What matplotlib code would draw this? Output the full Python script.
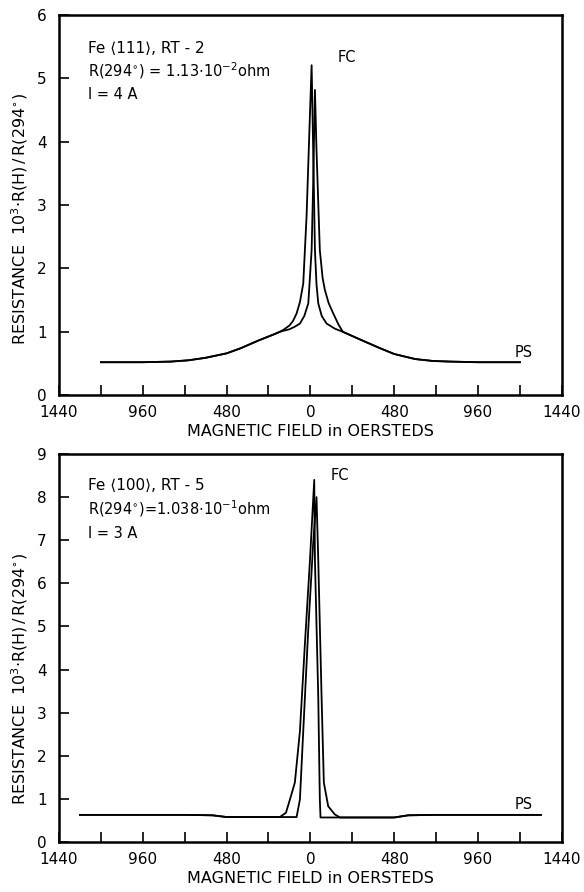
import numpy as np
import matplotlib
matplotlib.use("Agg")
import matplotlib.pyplot as plt

plt.rcParams['font.family'] = ['DejaVu Sans']
plt.rcParams['mathtext.fontset'] = 'dejavusans'

# ---- upper panel: Fe <111>, RT-2 ----
top_wing_left_h = [-1200, -960, -800, -700, -600, -480, -400, -300, -200, -175]
top_wing_left_r = [0.52, 0.52, 0.53, 0.55, 0.59, 0.66, 0.74, 0.86, 0.97, 1.0]
top_wing_right_h = [186, 300, 400, 480, 600, 700, 800, 960, 1200]
top_wing_right_r = [1.0, 0.86, 0.74, 0.65, 0.57, 0.54, 0.53, 0.52, 0.52]

# branch 1: outer left up to the tall peak, then inner right down
top_up1_h = [-150, -120, -100, -79, -60, -41, -22, -3, 7]
top_up1_r = [1.04, 1.10, 1.17, 1.29, 1.47, 1.76, 2.82, 4.40, 5.21]
top_down1_h = [16, 26, 35, 45, 65, 93, 140]
top_down1_r = [3.87, 2.29, 1.75, 1.45, 1.25, 1.13, 1.05]

# branch 2: inner left up to the lower peak, then outer right down
top_up2_h = [-150, -120, -90, -60, -35, -12, 7, 16, 26]
top_up2_r = [1.02, 1.04, 1.08, 1.13, 1.25, 1.45, 2.29, 3.34, 4.82]
top_down2_h = [35, 54, 70, 83, 105, 131, 160]
top_down2_r = [3.87, 2.29, 1.85, 1.66, 1.45, 1.29, 1.12]

# ---- lower panel: Fe <100>, RT-5 ----
bot_base_left_h = [-1320, -960, -700, -560, -480, -300]
bot_base_left_r = [0.63, 0.63, 0.63, 0.62, 0.58, 0.58]
bot_base_right_h = [200, 480, 560, 700, 960, 1320]
bot_base_right_r = [0.57, 0.57, 0.62, 0.63, 0.63, 0.63]

bot_up1_h = [-175, -140, -117, -89, -60, -31, -3, 22]
bot_up1_r = [0.58, 0.68, 0.99, 1.38, 2.57, 4.63, 6.5, 8.4]
bot_down1_h = [26, 45, 54, 58, 100, 170]
bot_down1_r = [6.54, 3.37, 0.99, 0.57, 0.57, 0.57]

bot_up2_h = [-175, -79, -60, -41, -12, 16, 35]
bot_up2_r = [0.58, 0.58, 0.99, 2.57, 4.95, 6.93, 8.0]
bot_down2_h = [45, 64, 77, 102, 140, 170]
bot_down2_r = [6.54, 3.37, 1.38, 0.83, 0.64, 0.57]

xtick_pos = [-1440, -960, -480, 0, 480, 960, 1440]
xtick_lab = ['1440', '960', '480', '0', '480', '960', '1440']
xminor = [-1200, -720, -240, 240, 720, 1200]

ylab = r'RESISTANCE  $10^3$$\cdot$R(H)$\,/\,$R(294$^{\circ}$)'


def style_axes(ax, ymax, ylab_y):
    ax.set_xlim(-1440, 1440)
    ax.set_ylim(0, ymax)
    ax.set_xticks(xtick_pos)
    ax.set_xticklabels(xtick_lab)
    ax.set_xticks(xminor, minor=True)
    ax.set_yticks(range(0, ymax + 1))
    ax.tick_params(axis='both', which='both', direction='in', length=7,
                   width=1.2, labelsize=11, color='black')
    ax.tick_params(axis='x', pad=7)
    ax.tick_params(axis='y', pad=9)
    for s in ax.spines.values():
        s.set_linewidth(1.8)
    ax.set_xlabel('MAGNETIC FIELD in OERSTEDS', fontsize=11.5, labelpad=3)
    ax.set_ylabel(ylab, fontsize=11.5)
    ax.yaxis.set_label_coords(-0.058, ylab_y)


fig = plt.figure(figsize=(5.84, 8.92), dpi=100)
ax1 = fig.add_axes([0.101, 0.557, 0.861, 0.426])
ax2 = fig.add_axes([0.101, 0.056, 0.861, 0.435])

kw = dict(color='black', lw=1.3)
tkw = dict(fontsize=10.5, va='center')
LA, RA = '\u27e8', '\u27e9'

c1_h = top_wing_left_h + top_up1_h + top_down1_h + top_wing_right_h
c1_r = top_wing_left_r + top_up1_r + top_down1_r + top_wing_right_r
c2_h = top_wing_left_h + top_up2_h + top_down2_h + top_wing_right_h
c2_r = top_wing_left_r + top_up2_r + top_down2_r + top_wing_right_r
ax1.plot(c1_h, c1_r, **kw)
ax1.plot(c2_h, c2_r, **kw)
style_axes(ax1, 6, 0.463)
ax1.text(0.058, 0.913, 'Fe ' + LA + '111' + RA + ', RT - 2', transform=ax1.transAxes, fontsize=11, va='center')
ax1.text(0.058, 0.855, r'R(294$^{\circ}$) = 1.13$\cdot$10$^{-2}$ohm', transform=ax1.transAxes, **tkw)
ax1.text(0.058, 0.79, 'I = 4 A', transform=ax1.transAxes, **tkw)
ax1.text(210, 5.33, 'FC', fontsize=10.5, ha='center', va='center')
ax1.text(1170, 0.68, 'PS', fontsize=10.5, ha='left', va='center')

d1_h = bot_base_left_h + bot_up1_h + bot_down1_h + bot_base_right_h
d1_r = bot_base_left_r + bot_up1_r + bot_down1_r + bot_base_right_r
d2_h = bot_base_left_h + bot_up2_h + bot_down2_h + bot_base_right_h
d2_r = bot_base_left_r + bot_up2_r + bot_down2_r + bot_base_right_r
ax2.plot(d1_h, d1_r, **kw)
ax2.plot(d2_h, d2_r, **kw)
style_axes(ax2, 9, 0.42)
ax2.text(0.058, 0.92, 'Fe ' + LA + '100' + RA + ', RT - 5', transform=ax2.transAxes, fontsize=11, va='center')
ax2.text(0.058, 0.858, r'R(294$^{\circ}$)=1.038$\cdot$10$^{-1}$ohm', transform=ax2.transAxes, **tkw)
ax2.text(0.058, 0.794, 'I = 3 A', transform=ax2.transAxes, **tkw)
ax2.text(170, 8.5, 'FC', fontsize=10.5, ha='center', va='center')
ax2.text(1170, 0.88, 'PS', fontsize=10.5, ha='left', va='center')

fig.savefig('out.png', dpi=100)
